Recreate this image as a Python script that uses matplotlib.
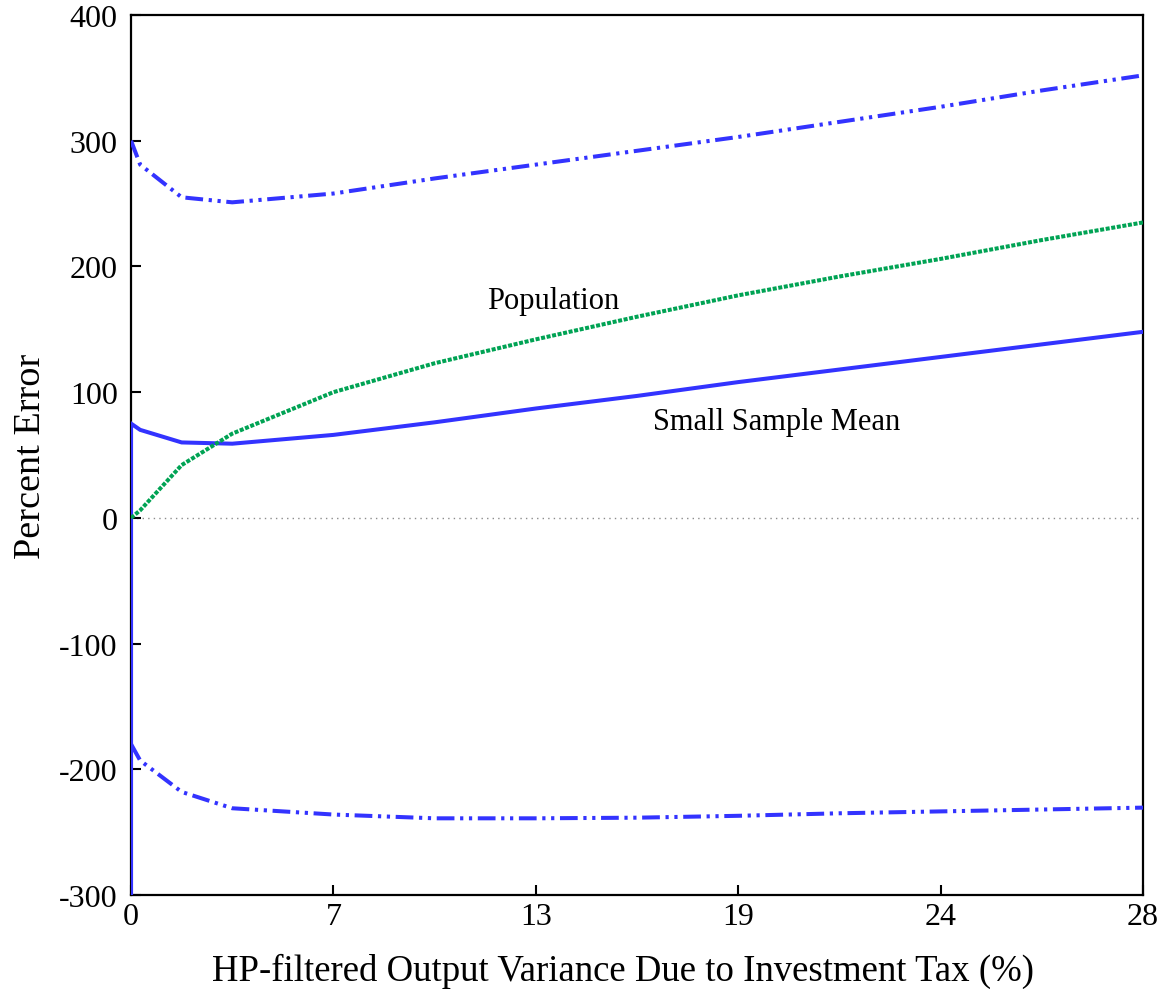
import matplotlib
matplotlib.use("Agg")
import matplotlib.pyplot as plt

plt.rcParams['font.family'] = ['Liberation Serif', 'DejaVu Serif']
plt.rcParams['axes.unicode_minus'] = False

# Investment-tax grid (in steps of the reported variance share)
tax_grid = [0, 0.045, 0.25, 0.5, 1.0, 1.5, 2.0, 2.5, 3.0, 3.5, 4.0, 4.5, 5.0]
variance_labels = ['0', '7', '13', '19', '24', '28']

population = [0, 6, 42, 67, 100, 123, 142, 160, 177, 192, 206, 221, 235]
sample_mean = [75, 70, 60, 59, 66, 76, 87, 97, 108, 118, 128, 138, 148]
upper_band = [300, 281, 255, 251, 258, 270, 281, 292, 303, 315, 327, 340, 352]
lower_band = [-180, -193, -218, -231, -236, -239, -239, -238.5, -237, -235, -233.5, -232, -230.5]
# small-sample mean diverges at zero tax
mean_at_zero_floor = -300

blue = (0.2, 0.2, 1.0)
green = (0.0, 0.64, 0.33)

fig = plt.figure(figsize=(11.66, 9.95), dpi=100)
ax = fig.add_axes([0.1124, 0.0995, 0.8679, 0.8844])

ax.axhline(0, color='0.55', lw=1.0, ls=(0, (1, 3)), zorder=1)

ax.plot([tax_grid[0]] + tax_grid, [mean_at_zero_floor] + sample_mean,
        color=blue, lw=2.9, solid_joinstyle='miter', zorder=3)
ax.plot(tax_grid, population, color=green, lw=2.9,
        ls=(0, (1.0, 0.4)), zorder=3)
ddot = (0, (4.4, 1.4, 0.8, 1.4, 0.8, 1.4))
ax.plot(tax_grid, upper_band, color=blue, lw=2.9, ls=ddot, zorder=3)
ax.plot(tax_grid, lower_band, color=blue, lw=2.9, ls=ddot, zorder=3)

ax.text(2.085, 173, 'Population', fontsize=22, ha='center', va='center')
ax.text(3.19, 77, 'Small Sample Mean', fontsize=22, ha='center', va='center')

ax.set_xlim(0, 5)
ax.set_ylim(-300, 400)
ax.set_xticks(range(len(variance_labels)))
ax.set_xticklabels(variance_labels)
ax.set_yticks(range(-300, 401, 100))
ax.tick_params(direction='in', length=7.5, width=1.5, labelsize=23,
               top=False, right=False)
ax.tick_params(axis='y', pad=9.5)
ax.tick_params(axis='x', pad=5)
for s in ax.spines.values():
    s.set_linewidth(1.6)

ax.set_xlabel('HP-filtered Output Variance Due to Investment Tax (%)', fontsize=26.5)
ax.xaxis.set_label_coords(0.486, -0.066)
ax.set_ylabel('Percent Error', fontsize=27.5, labelpad=8)

fig.savefig('out.png', dpi=100)
